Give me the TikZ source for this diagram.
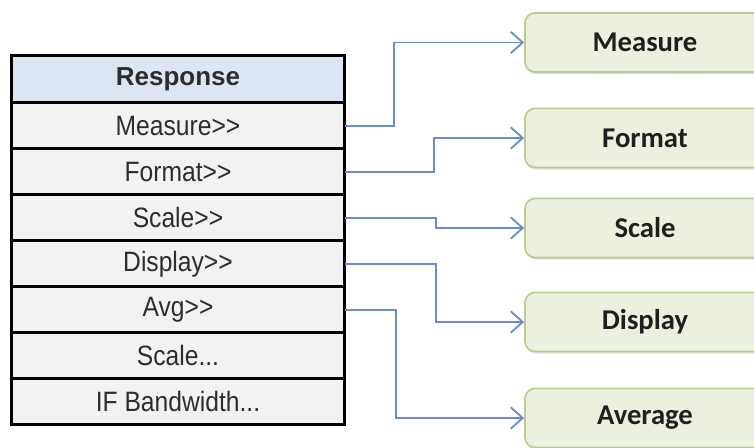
\documentclass[tikz,border=0pt]{standalone}
\usepackage{fontspec}
\usetikzlibrary{positioning,arrows.meta,shadows}
\newfontfamily\menufont[FakeStretch=0.88]{Liberation Sans}
\newfontfamily\headfont{Liberation Sans}
\newfontfamily\boxfont{Carlito}
\definecolor{headblue}{RGB}{220,230,242}
\definecolor{rowgray}{RGB}{242,242,242}
\definecolor{rowtext}{RGB}{45,45,45}
\definecolor{boxgreen}{RGB}{235,241,222}
\definecolor{boxedge}{RGB}{185,206,142}
\definecolor{linkblue}{RGB}{108,140,198}
\tikzset{
  menuhead/.style={draw, line width=1.4pt, fill=headblue, inner sep=0pt,
    minimum width=249pt, minimum height=34.5pt, text=rowtext,
    font=\headfont\bfseries\fontsize{19.5}{22}\selectfont},
  menurow/.style={draw, line width=1.1pt, fill=rowgray, inner sep=0pt,
    minimum width=249pt, minimum height=33.4pt, text=rowtext,
    font=\menufont\fontsize{21}{24}\selectfont},
  subbox/.style={draw=boxedge, line width=1.3pt, fill=boxgreen, rounded corners=7.5pt,
    minimum width=180pt, minimum height=44.25pt, inner sep=0pt, text=black!88,
    font=\boxfont\bfseries\fontsize{21.5}{24}\selectfont,
    drop shadow={shadow xshift=1pt, shadow yshift=-1.5pt, opacity=0.25}},
  link/.style={draw=linkblue, line width=1.35pt, -{Straight Barb[length=9pt,width=16pt]}}
}
\begin{document}
\begin{tikzpicture}[x=0.75pt, y=-0.75pt, node distance=0pt]
\useasboundingbox (0,0) rectangle (754,447);

% menu on the left
\node[menuhead] (resp) at (178,79) {Response};
\node[menurow, below=of resp] (meas) {Measure>>};
\node[menurow, below=of meas] (form) {Format>>};
\node[menurow, below=of form] (scal) {Scale>>};
\node[menurow, below=of scal] (disp) {Display>>};
\node[menurow, below=of disp] (avg) {Avg>>};
\node[menurow, below=of avg] (scaldots) {Scale...};
\node[menurow, below=of scaldots] (ifbw) {IF Bandwidth...};
\draw[line width=2.2pt] (resp.north west) rectangle (ifbw.south east);
\draw[line width=2pt] (avg.south west) -- (avg.south east);

% sub menus on the right
\node[subbox] (bmeas) at (645,42.5) {Measure};
\node[subbox] (bform) at (645,138) {Format};
\node[subbox] (bscal) at (645,228) {Scale};
\node[subbox] (bdisp) at (645,322) {Display};
\node[subbox] (bavg) at (645,418) {Average};

\draw[link] (meas.east) -- ++(49,0) |- (bmeas.west);
\draw[link] (form.east) -- ++(89,0) |- (bform.west);
\draw[link] (scal.east) -- ++(91,0) |- (bscal.west);
\draw[link] (disp.east) -- ++(91,0) |- (bdisp.west);
\draw[link] (avg.east) -- ++(51,0) |- (bavg.west);
\end{tikzpicture}
\end{document}
